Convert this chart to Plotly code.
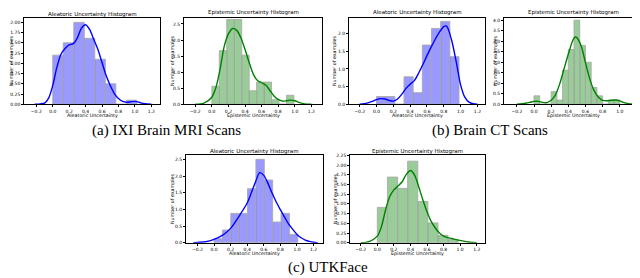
import plotly.graph_objects as go

W, H = 640, 278

# ---------------- data ----------------
# Histogram bins: first edge, bin width, density heights
ixi_alea_start, ixi_alea_width = 0.0, 0.128
ixi_alea_heights = [1.20, 1.50, 2.00, 1.61, 1.10, 0.50, 0.0, 0.10]
ixi_alea_kde_x = [-0.22, -0.15, -0.1, -0.05, 0.0, 0.05, 0.1, 0.15, 0.2, 0.25, 0.3, 0.35, 0.4, 0.45,
                  0.5, 0.55, 0.6, 0.65, 0.7, 0.75, 0.8, 0.85, 0.9, 0.95, 1.0, 1.05, 1.1, 1.15, 1.2]
ixi_alea_kde_y = [0.0, 0.01, 0.03, 0.15, 0.46, 0.90, 1.22, 1.36, 1.45, 1.48, 1.62, 1.86, 1.94, 1.82,
                  1.58, 1.34, 1.02, 0.70, 0.46, 0.26, 0.14, 0.07, 0.05, 0.06, 0.07, 0.05, 0.02, 0.005, 0.0]

ixi_epi_start, ixi_epi_width = 0.0, 0.09
ixi_epi_heights = [0.56, 1.67, 2.64, 2.64, 1.53, 0.42, 0.69, 0.69, 0.14, 0.0, 0.28]
ixi_epi_kde_x = [-0.2, -0.1, 0.0, 0.05, 0.1, 0.15, 0.2, 0.25, 0.3, 0.35, 0.4, 0.45, 0.5, 0.55, 0.6,
                 0.65, 0.7, 0.75, 0.8, 0.85, 0.9, 0.95, 1.0, 1.05, 1.1, 1.15, 1.2]
ixi_epi_kde_y = [0.0, 0.03, 0.22, 0.53, 1.10, 1.81, 2.19, 2.36, 2.30, 2.07, 1.71, 1.30, 0.94, 0.74, 0.67,
                 0.60, 0.43, 0.26, 0.15, 0.10, 0.11, 0.13, 0.11, 0.06, 0.02, 0.005, 0.0]

ct_alea_start, ct_alea_width = 0.0, 0.109
ct_alea_heights = [0.22, 0.22, 0.0, 0.78, 0.33, 1.68, 2.15, 2.35, 1.35]
ct_alea_kde_x = [-0.2, -0.15, -0.1, -0.05, 0.0, 0.05, 0.1, 0.15, 0.2, 0.25, 0.3, 0.35, 0.4, 0.45, 0.5,
                 0.55, 0.6, 0.65, 0.7, 0.75, 0.8, 0.83, 0.85, 0.9, 0.95, 1.0, 1.05, 1.1, 1.15, 1.2]
ct_alea_kde_y = [0.005, 0.015, 0.04, 0.08, 0.13, 0.16, 0.15, 0.11, 0.09, 0.15, 0.28, 0.45, 0.57, 0.67, 0.88,
                 1.12, 1.38, 1.62, 1.85, 2.05, 2.20, 2.22, 2.15, 1.75, 1.18, 0.55, 0.20, 0.06, 0.015, 0.0]

ct_epi_start, ct_epi_width = 0.0, 0.0667
ct_epi_heights = [0.4, 0.0, 0.0, 0.6, 0.2, 1.62, 2.6, 4.0, 2.8, 2.0, 0.8, 0.4, 0.0, 0.2, 0.2]
ct_epi_kde_x = [-0.2, -0.1, -0.05, 0.0, 0.05, 0.1, 0.15, 0.2, 0.25, 0.3, 0.35, 0.4, 0.45, 0.48, 0.5,
                0.55, 0.6, 0.65, 0.7, 0.75, 0.8, 0.85, 0.9, 0.95, 1.0, 1.05, 1.1, 1.15, 1.2]
ct_epi_kde_y = [0.0, 0.05, 0.09, 0.14, 0.14, 0.09, 0.08, 0.19, 0.45, 0.97, 1.68, 2.38, 3.01, 3.20, 3.17,
                2.78, 1.99, 1.21, 0.66, 0.35, 0.19, 0.17, 0.19, 0.20, 0.16, 0.08, 0.03, 0.01, 0.0]

utk_alea_start, utk_alea_width = 0.0, 0.101
utk_alea_heights = [0.12, 0.38, 0.88, 0.88, 1.62, 2.50, 1.88, 0.62, 0.88, 0.25]
utk_alea_kde_x = [-0.25, -0.2, -0.1, 0.0, 0.1, 0.2, 0.3, 0.4, 0.45, 0.5, 0.55, 0.6, 0.65, 0.7, 0.75,
                  0.8, 0.85, 0.9, 0.95, 1.0, 1.05, 1.1, 1.15, 1.2, 1.25]
utk_alea_kde_y = [0.0, 0.01, 0.03, 0.10, 0.22, 0.43, 0.79, 1.19, 1.50, 1.82, 2.10, 2.02, 1.78, 1.49, 1.22,
                  0.99, 0.77, 0.56, 0.40, 0.25, 0.15, 0.08, 0.04, 0.015, 0.0]

utk_epi_start, utk_epi_width = 0.0, 0.122
utk_epi_heights = [0.91, 1.69, 1.40, 2.10, 1.06, 0.51, 0.19, 0.08]
utk_epi_kde_x = [-0.2, -0.1, 0.0, 0.05, 0.1, 0.15, 0.2, 0.25, 0.3, 0.35, 0.4, 0.45, 0.5, 0.55, 0.6,
                 0.65, 0.7, 0.75, 0.8, 0.85, 0.9, 0.95, 1.0, 1.1, 1.2]
utk_epi_kde_y = [0.0, 0.03, 0.17, 0.42, 0.85, 1.19, 1.36, 1.46, 1.57, 1.76, 1.86, 1.74, 1.44, 1.10, 0.80,
                 0.55, 0.38, 0.25, 0.17, 0.13, 0.11, 0.08, 0.06, 0.02, 0.0]

x_tick_values = [-0.2, 0.0, 0.2, 0.4, 0.6, 0.8, 1.0, 1.2]

titles = ["Aleatoric Uncertainty Histogram", "Epistemic Uncertainty Histogram"]
x_titles = ["Aleatoric Uncertainty", "Epistemic Uncertainty"]
y_title = "Number of examples"
captions = ["(a) IXI Brain MRI Scans", "(b) Brain CT Scans", "(c) UTKFace"]

# ---------------- layout helpers ----------------
BLUE_LINE, BLUE_FILL = "rgb(0,0,255)", "rgba(0,0,255,0.4)"
GREEN_LINE, GREEN_FILL = "rgb(0,128,0)", "rgba(0,128,0,0.4)"
EDGE = "rgba(170,170,170,0.9)"

panels = [
    # (start, width, heights, kde_x, kde_y, kind, box px [x0,x1,y0,y1], xrange, yrange, ydtick, yfmt)
    (ixi_alea_start, ixi_alea_width, ixi_alea_heights, ixi_alea_kde_x, ixi_alea_kde_y, 0,
     [16, 152, 8, 96], [-0.35, 1.306], [0, 2.11], 0.25, ".2f"),
    (ixi_epi_start, ixi_epi_width, ixi_epi_heights, ixi_epi_kde_x, ixi_epi_kde_y, 1,
     [176, 314, 8, 96], [-0.336, 1.329], [0, 2.69], 0.5, ".1f"),
    (ct_alea_start, ct_alea_width, ct_alea_heights, ct_alea_kde_x, ct_alea_kde_y, 0,
     [341, 477, 8, 96], [-0.327, 1.29], [0, 2.45], 0.5, ".1f"),
    (ct_epi_start, ct_epi_width, ct_epi_heights, ct_epi_kde_x, ct_epi_kde_y, 1,
     [496, 634, 8, 96], [-0.35, 1.26], [0, 4.11], 0.5, ".1f"),
    (utk_alea_start, utk_alea_width, utk_alea_heights, utk_alea_kde_x, utk_alea_kde_y, 0,
     [178, 315, 148, 237], [-0.338, 1.314], [0, 2.62], 0.5, ".1f"),
    (utk_epi_start, utk_epi_width, utk_epi_heights, utk_epi_kde_x, utk_epi_kde_y, 1,
     [342, 477, 148, 237], [-0.33, 1.30], [0, 2.25], 0.25, ".2f"),
]
title_y = [4.5, 3, 3, 3, 144, 144]
ylab_x = [3, 164, 326, 487, 164, 327]
xlab_y = [107, 107, 107, 107, 248, 248]

def px(x):
    return x / W

def py(y):
    return 1 - y / H

fig = go.Figure()
layout = {}
annotations = []
TICKFONT = dict(family="DejaVu Sans", size=4.5, color="black")

for i, (start, width, heights, kx, ky, kind, box, xr, yr, ydt, yfmt) in enumerate(panels):
    n = i + 1
    xa = "x" if n == 1 else f"x{n}"
    ya = "y" if n == 1 else f"y{n}"
    centers = [start + width * (k + 0.5) for k in range(len(heights))]
    fill = BLUE_FILL if kind == 0 else GREEN_FILL
    line = BLUE_LINE if kind == 0 else GREEN_LINE
    fig.add_trace(go.Bar(x=centers, y=heights, width=[width] * len(heights),
                         marker=dict(color=fill, line=dict(color=EDGE, width=1.0)),
                         xaxis=xa, yaxis=ya, showlegend=False))
    fig.add_trace(go.Scatter(x=kx, y=ky, mode="lines",
                             line=dict(color=line, width=1.4, shape="spline", smoothing=0.8),
                             xaxis=xa, yaxis=ya, showlegend=False))
    x0, x1, y0, y1 = box
    common = dict(showgrid=False, zeroline=False, showline=True, mirror=True,
                  linecolor="black", linewidth=0.7, ticks="outside", ticklen=2,
                  tickwidth=0.6, tickcolor="black", tickfont=TICKFONT)
    layout[f"xaxis{n}"] = dict(domain=[px(x0), px(x1)], range=xr, anchor=ya,
                               tickvals=x_tick_values, tickformat=".1f", **common)
    layout[f"yaxis{n}"] = dict(domain=[py(y1), py(y0)], range=yr, anchor=xa,
                               dtick=ydt, tick0=0, tickformat=yfmt, **common)
    cx = (x0 + x1) / 2
    cy = (y0 + y1) / 2
    annotations.append(dict(text=titles[kind], x=px(cx), y=py(title_y[i]), xref="paper", yref="paper",
                            showarrow=False, xanchor="center", yanchor="middle",
                            font=dict(family="DejaVu Sans", size=5.5, color="black")))
    annotations.append(dict(text=x_titles[kind], x=px(cx), y=py(xlab_y[i]), xref="paper", yref="paper",
                            showarrow=False, xanchor="center", yanchor="middle",
                            font=dict(family="DejaVu Sans", size=4.8, color="black")))
    annotations.append(dict(text=y_title, x=px(ylab_x[i]), y=py(cy), xref="paper", yref="paper",
                            showarrow=False, xanchor="center", yanchor="middle", textangle=-90,
                            font=dict(family="DejaVu Sans", size=4.8, color="black")))

caption_pos = [(158, 123), (482, 123), (320, 262)]
for text, (cx, cy) in zip(captions, caption_pos):
    annotations.append(dict(text=text, x=px(cx), y=py(cy), xref="paper", yref="paper",
                            showarrow=False, xanchor="center", yanchor="middle",
                            font=dict(family="Liberation Serif, Times New Roman, serif",
                                      size=15, color="black")))

fig.update_layout(width=W, height=H, margin=dict(l=0, r=0, t=0, b=0),
                  paper_bgcolor="white", plot_bgcolor="white", barmode="overlay",
                  annotations=annotations, **layout)
fig.write_html("out.html")
